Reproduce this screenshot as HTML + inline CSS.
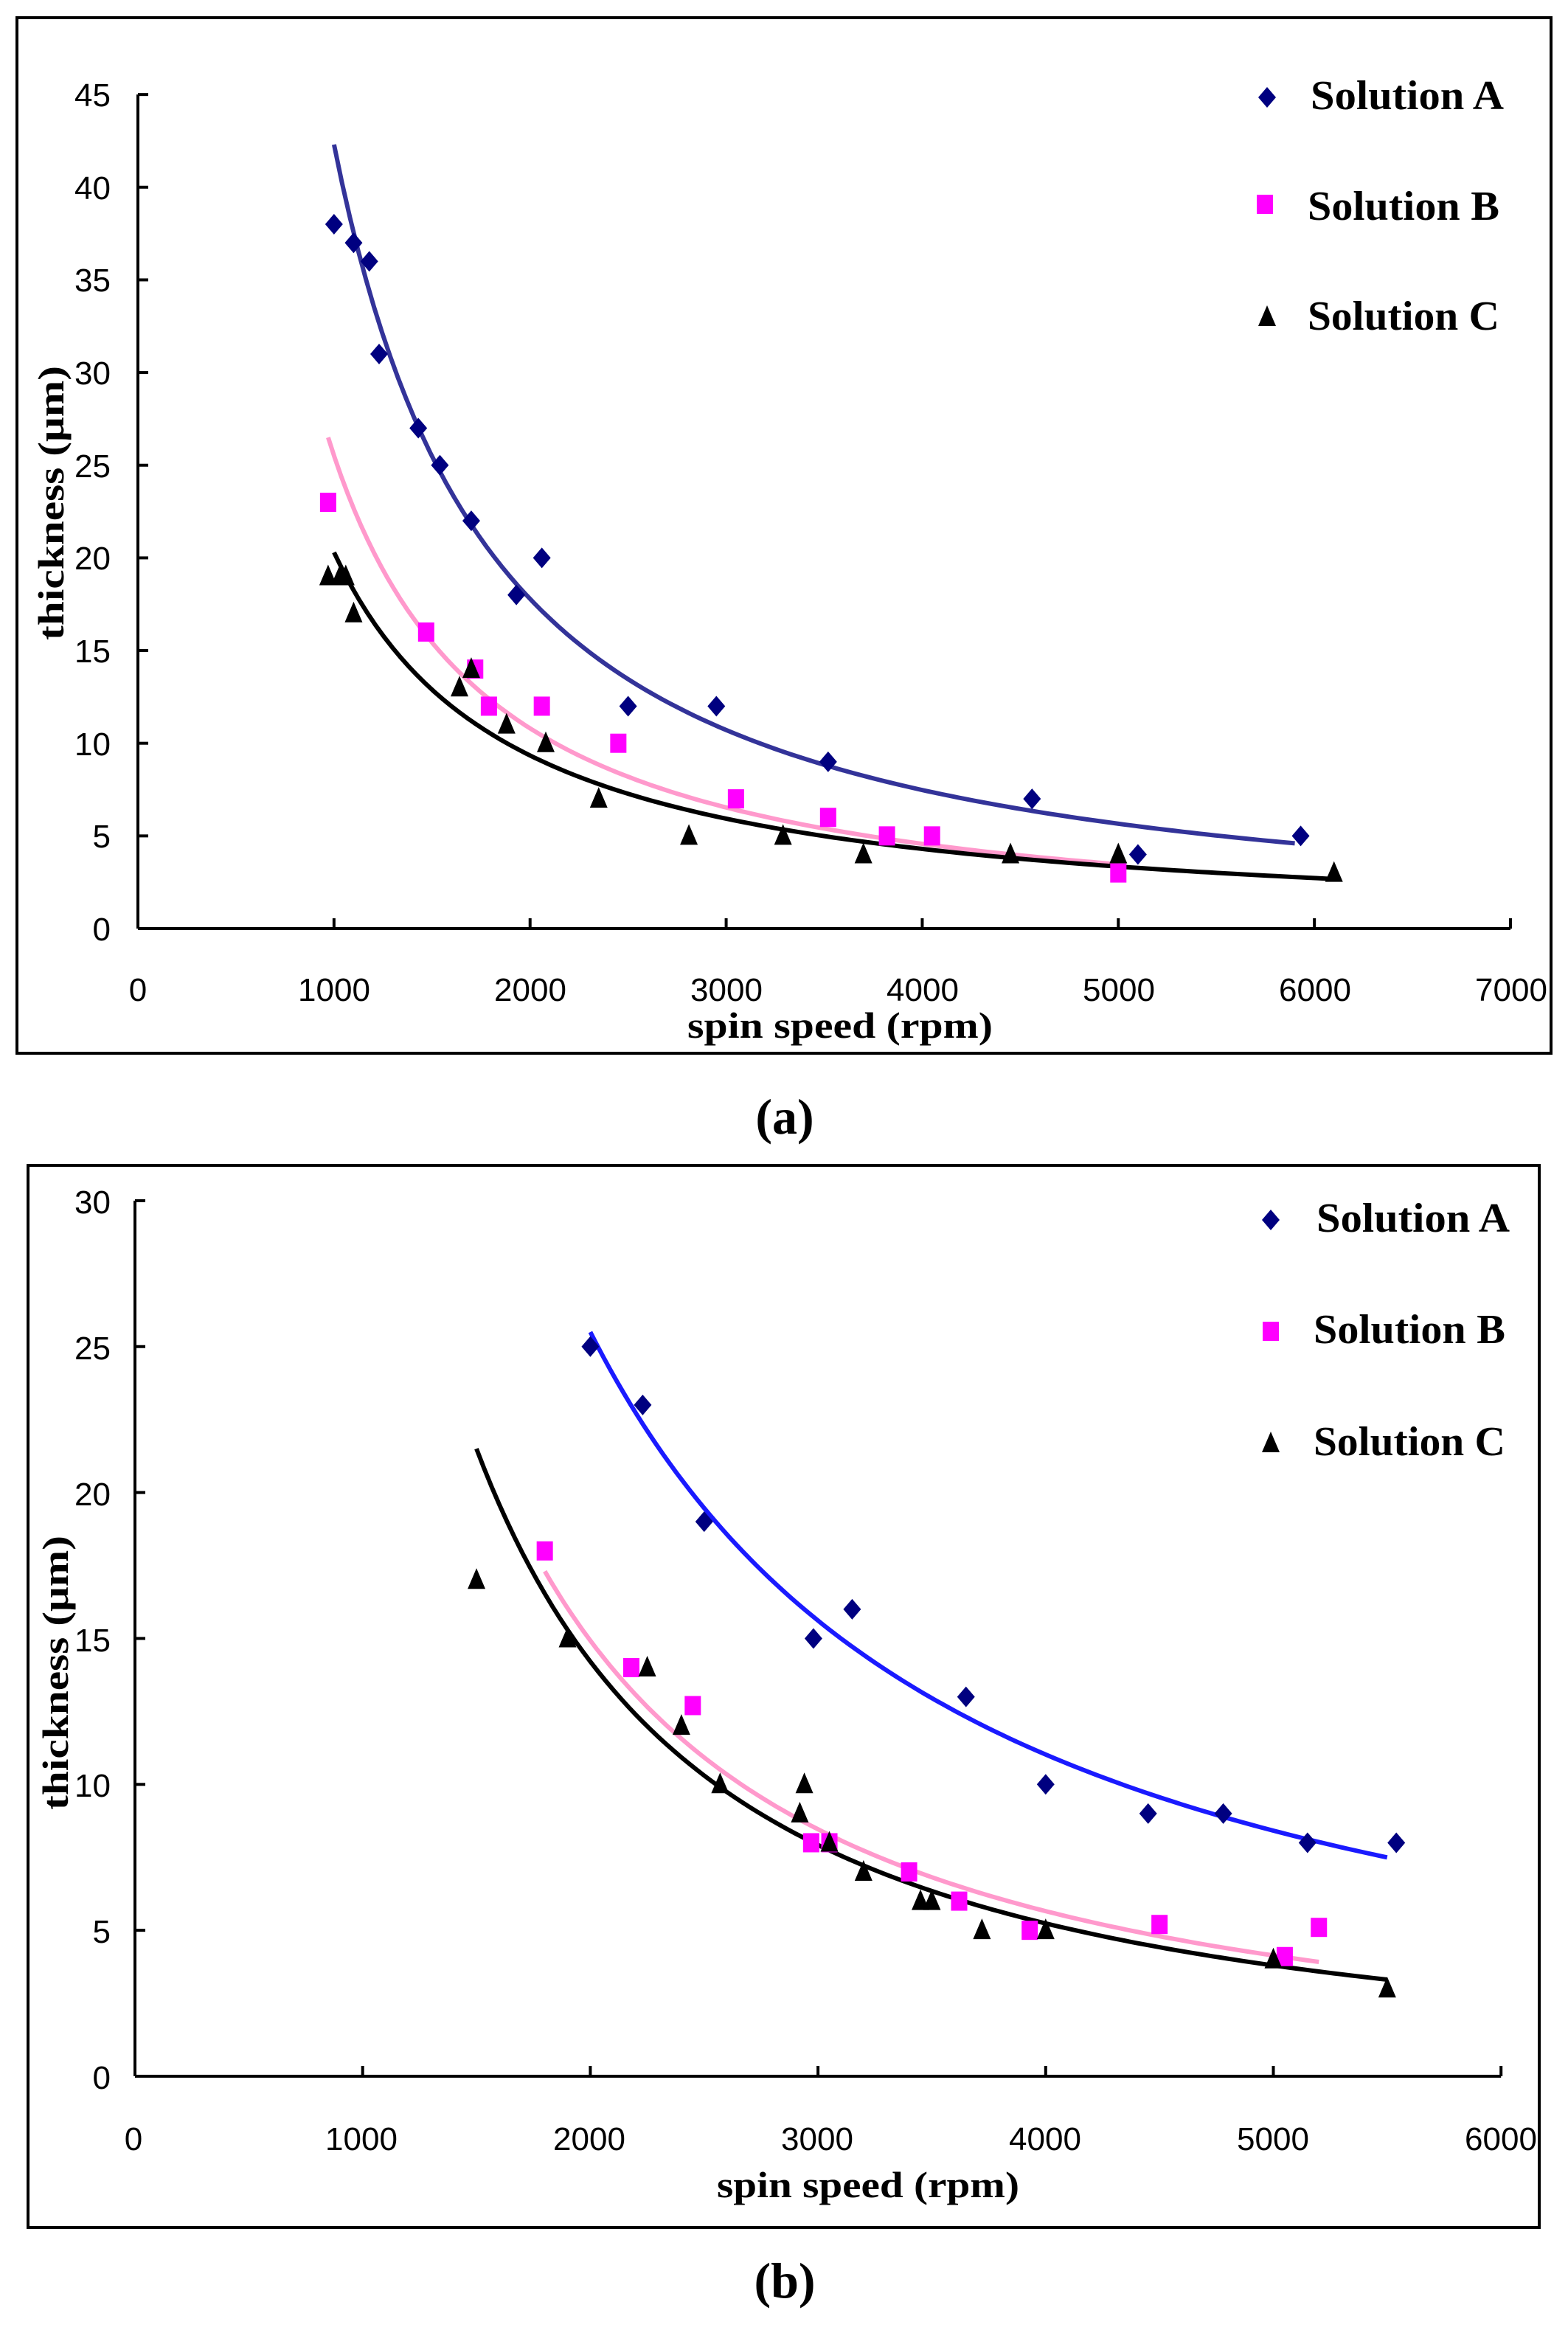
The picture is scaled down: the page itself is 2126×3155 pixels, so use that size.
<!DOCTYPE html>
<html><head><meta charset="utf-8"><style>
html,body{margin:0;padding:0;background:#fff}
svg{display:block}
.t{font-family:"Liberation Sans",sans-serif;font-size:44px;fill:#000}
.s{font-family:"Liberation Serif",serif;font-weight:bold;fill:#000}
</style></head><body>
<svg id="s" width="2126" height="3155" viewBox="0 0 2126 3155" xmlns="http://www.w3.org/2000/svg">
<rect width="2126" height="3155" fill="#fff"/>
<!-- Panel a frame -->
<rect x="23" y="24" width="2080" height="1404" fill="none" stroke="#000" stroke-width="4"/>
<!-- Panel b frame -->
<rect x="38" y="1580" width="2049" height="1440" fill="none" stroke="#000" stroke-width="4"/>
<g id="ga"></g><g id="gb"></g>
<!-- Panel a texts -->
<g class="t" text-anchor="end">
<text x="150" y="144">45</text><text x="150" y="270">40</text><text x="150" y="395">35</text>
<text x="150" y="521">30</text><text x="150" y="647">25</text><text x="150" y="772">20</text>
<text x="150" y="898">15</text><text x="150" y="1024">10</text><text x="150" y="1149">5</text>
<text x="150" y="1275">0</text>
</g>
<g class="t" text-anchor="middle">
<text x="187" y="1357">0</text><text x="453" y="1357">1000</text><text x="719" y="1357">2000</text>
<text x="985" y="1357">3000</text><text x="1251" y="1357">4000</text><text x="1517" y="1357">5000</text>
<text x="1783" y="1357">6000</text><text x="2049" y="1357">7000</text>
</g>
<text class="s" x="932" y="1407" font-size="50" textLength="414" lengthAdjust="spacingAndGlyphs">spin speed (rpm)</text>
<text class="s" transform="translate(86,868) rotate(-90)" font-size="50" textLength="372" lengthAdjust="spacingAndGlyphs">thickness (μm)</text>
<text class="s" x="1777" y="148" font-size="56" textLength="262" lengthAdjust="spacingAndGlyphs">Solution A</text>
<text class="s" x="1773" y="298" font-size="56" textLength="260" lengthAdjust="spacingAndGlyphs">Solution B</text>
<text class="s" x="1773" y="447" font-size="56" textLength="260" lengthAdjust="spacingAndGlyphs">Solution C</text>
<text class="s" x="1064" y="1537" font-size="68" text-anchor="middle">(a)</text>
<!-- Panel b texts -->
<g class="t" text-anchor="end">
<text x="150" y="1645">30</text><text x="150" y="1843">25</text><text x="150" y="2041">20</text>
<text x="150" y="2239">15</text><text x="150" y="2436">10</text><text x="150" y="2634">5</text>
<text x="150" y="2832">0</text>
</g>
<g class="t" text-anchor="middle">
<text x="181" y="2915">0</text><text x="490" y="2915">1000</text><text x="799" y="2915">2000</text>
<text x="1108" y="2915">3000</text><text x="1417" y="2915">4000</text><text x="1726" y="2915">5000</text>
<text x="2035" y="2915">6000</text>
</g>
<text class="s" x="972" y="2979" font-size="50" textLength="410" lengthAdjust="spacingAndGlyphs">spin speed (rpm)</text>
<text class="s" transform="translate(92,2454) rotate(-90)" font-size="50" textLength="372" lengthAdjust="spacingAndGlyphs">thickness (μm)</text>
<text class="s" x="1785" y="1670" font-size="56" textLength="262" lengthAdjust="spacingAndGlyphs">Solution A</text>
<text class="s" x="1781" y="1821" font-size="56" textLength="260" lengthAdjust="spacingAndGlyphs">Solution B</text>
<text class="s" x="1781" y="1973" font-size="56" textLength="260" lengthAdjust="spacingAndGlyphs">Solution C</text>
<text class="s" x="1064" y="3115" font-size="68" text-anchor="middle">(b)</text>
</svg>
<script>
var NS="http://www.w3.org/2000/svg";
function el(g,n,a){var e=document.createElementNS(NS,n);for(var k in a)e.setAttribute(k,a[k]);g.appendChild(e);return e;}
function mk(g,type,x,y){
 if(type=="A"){el(g,"polygon",{points:(x)+","+(y-14)+" "+(x+12)+","+y+" "+x+","+(y+14)+" "+(x-12)+","+y,fill:"#000080"});}
 else if(type=="B"){el(g,"rect",{x:x-11,y:y-13,width:22,height:26,fill:"#ff00ff"});}
 else {el(g,"polygon",{points:x+","+(y-16)+" "+(x+12)+","+(y+12)+" "+(x-12)+","+(y+12),fill:"#000"});}
}
function panel(g,X,Y,ax,tickN,ymax,yStep,xmaxTick,curves,pts,leg){
 // axes
 var x0=X(0),y0=Y(0);
 el(g,"line",{x1:x0,y1:Y(ymax),x2:x0,y2:y0,stroke:"#000","stroke-width":4});
 el(g,"line",{x1:x0,y1:y0,x2:X(xmaxTick),y2:y0,stroke:"#000","stroke-width":4});
 for(var v=0;v<=ymax;v+=yStep){el(g,"line",{x1:x0,y1:Y(v),x2:x0+14,y2:Y(v),stroke:"#000","stroke-width":4});}
 for(var v=1000;v<=xmaxTick;v+=1000){el(g,"line",{x1:X(v),y1:y0,x2:X(v),y2:y0-14,stroke:"#000","stroke-width":4});}
 curves.forEach(function(c){
  var a=c.y0*Math.pow(c.x0,c.b),d="";
  for(var i=0;i<=120;i++){var v=c.x0+(c.x1-c.x0)*i/120;d+=(i?"L":"M")+X(v).toFixed(1)+","+Y(a*Math.pow(v,-c.b)).toFixed(1);}
  el(g,"path",{d:d,fill:"none",stroke:c.col,"stroke-width":6});
 });
 for(var k in pts){pts[k].forEach(function(p){mk(g,k,X(p[0]),Y(p[1]));});}
 leg.forEach(function(l){mk(g,l[0],l[1],l[2]);});
}
var ga=document.getElementById("ga");
panel(ga,function(v){return 187+v*0.26586;},function(t){return 1259-t*25.13;},0,0,45,5,7000,
[{x0:1000,x1:5900,y0:42.3,b:1.25,col:"#333399"},
 {x0:970,x1:5000,y0:26.5,b:1.24,col:"#ff99cc"},
 {x0:1000,x1:6100,y0:20.3,b:1.12,col:"#000"}],
{B:[[970,23],[1470,16],[1720,14],[1790,12],[2060,12],[2450,10],[3050,7],[3520,6],[3820,5],[4050,5],[5000,3]],
 C:[[970,19],[1030,19],[1060,19],[1100,17],[1640,13],[1700,14],[1880,11],[2080,10],[2350,7],[2810,5],[3290,5],[3700,4],[4450,4],[5000,4],[6100,3]],
 A:[[1000,38],[1100,37],[1180,36],[1230,31],[1430,27],[1540,25],[1700,22],[1930,18],[2060,20],[2500,12],[2950,12],[3520,9],[4560,7],[5100,4],[5930,5]]},
[["A",1718,132],["B",1715,277],["C",1718,430]]);
var gb=document.getElementById("gb");
panel(gb,function(v){return 183+v*0.3087;},function(t){return 2815-t*39.57;},0,0,30,5,6000,
[{x0:2000,x1:5500,y0:25.5,b:1.21,col:"#1a1aff"},
 {x0:1800,x1:5200,y0:17.3,b:1.40,col:"#ff99cc"},
 {x0:1500,x1:5500,y0:21.5,b:1.44,col:"#000"}],
{B:[[1800,18],[2180,14],[2450,12.7],[2970,8],[3050,8],[3400,7],[3620,6],[3930,5],[4500,5.2],[5050,4.1],[5200,5.1]],
 C:[[1500,17],[1900,15],[2250,14],[2400,12],[2570,10],[2920,9],[2940,10],[3050,8],[3200,7],[3450,6],[3500,6],[3720,5],[4000,5],[5000,4],[5500,3]],
 A:[[2000,25],[2230,23],[2500,19],[2980,15],[3150,16],[3650,13],[4000,10],[4450,9],[4780,9],[5150,8],[5540,8]]},
[["A",1723,1654],["B",1723,1805],["C",1723,1957]]);
</script>
</body></html>
